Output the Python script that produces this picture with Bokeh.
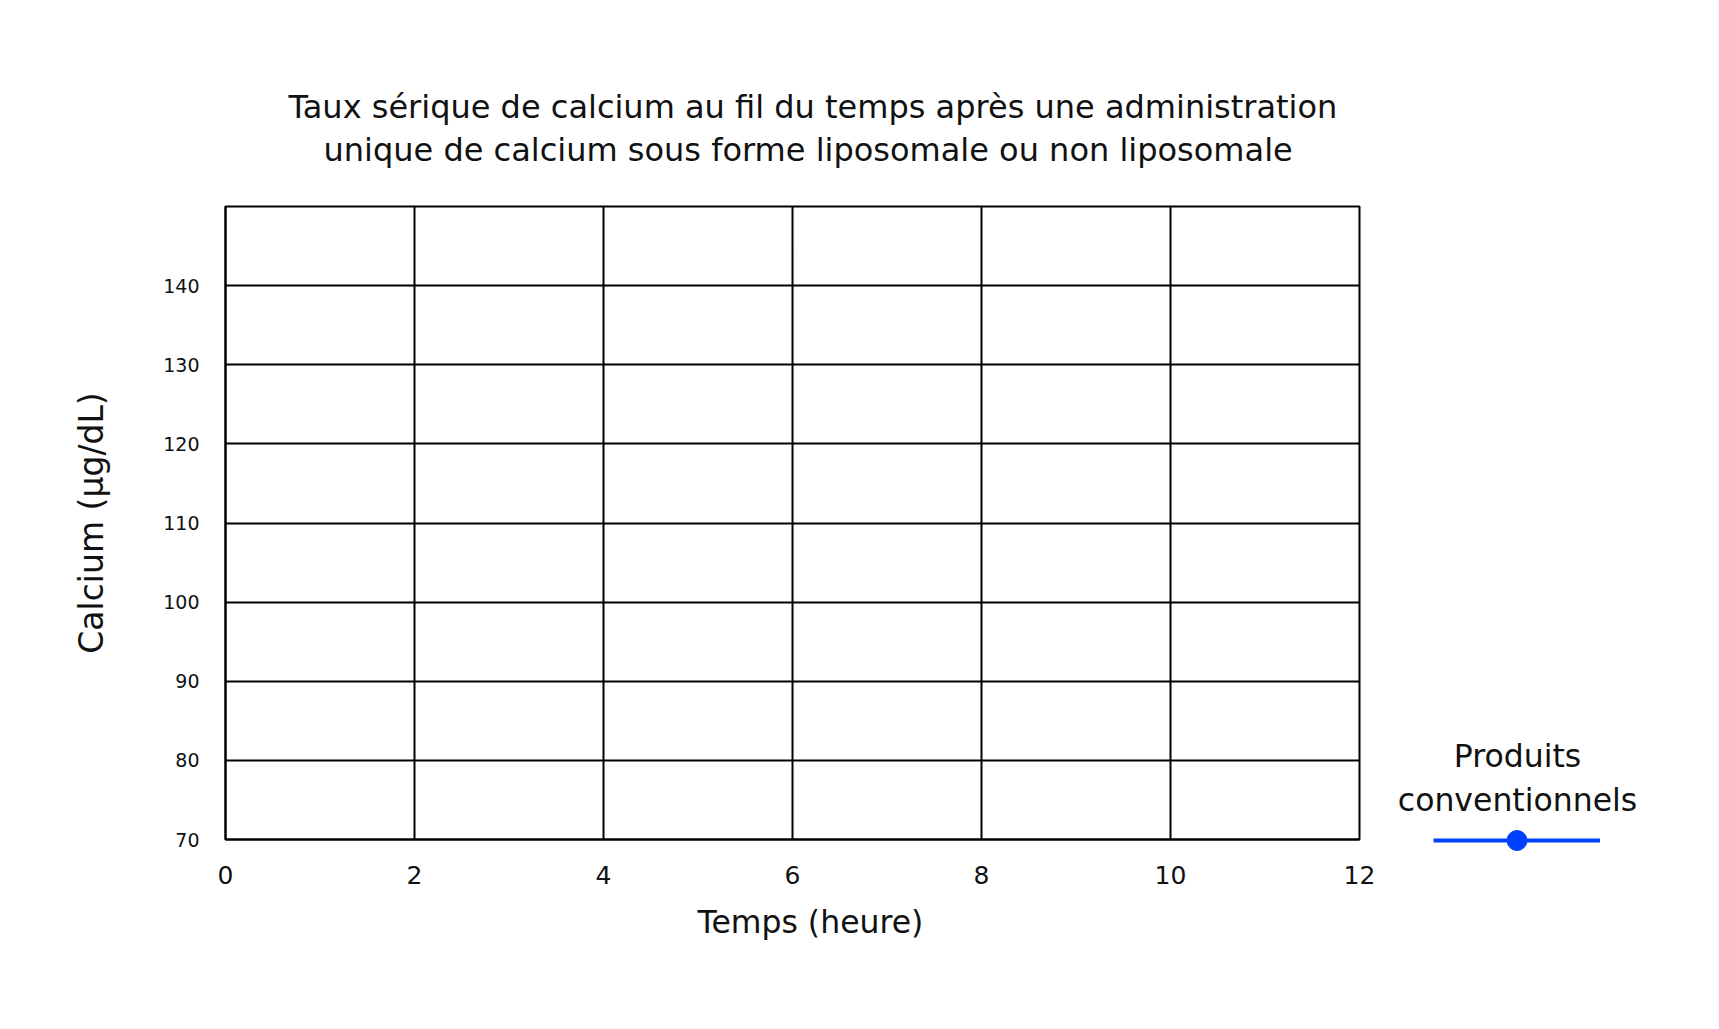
import numpy as np
from bokeh.plotting import figure
from bokeh.layouts import row
from bokeh.models import Range1d, FixedTicker, Legend, LegendItem, Label, Title
from bokeh.embed import file_html
from bokeh.resources import INLINE

# ---- data / texts ----
title_lines = [
    "Taux sérique de calcium au fil du temps après une administration",
    "unique de calcium sous forme liposomale ou non liposomale",
]
x_label = "Temps (heure)"
y_label = "Calcium (µg/dL)"
x_ticks = [0, 2, 4, 6, 8, 10, 12]
y_ticks = [70, 80, 90, 100, 110, 120, 130, 140]
x_limits = [0, 12]
y_limits = [70, 150]
series_name_lines = ["Produits", "conventionnels"]
# the reference shows no measured points: every value is missing
series_time = np.array([0, 2, 4, 6, 8, 10, 12], dtype=float)
series_calcium = np.array([np.nan, np.nan, np.nan, np.nan, np.nan, np.nan, np.nan])

FONT = "DejaVu Sans"
TXT = "#111111"
BLUE = "#0040ff"

MAIN_W, H = 1379, 1010
LEG_H = 1025

p = figure(
    width=MAIN_W, height=H,
    x_range=Range1d(*x_limits), y_range=Range1d(*y_limits),
    output_backend="svg", toolbar_location=None,
    min_border_left=225, min_border_right=20,
    min_border_top=206, min_border_bottom=171,
)
p.background_fill_color = "white"
p.border_fill_color = "white"
p.outline_line_color = "black"
p.outline_line_width = 2

# "above" items: the first added sits next to the frame, the plot title is outermost
p.add_layout(Title(text=" ", text_font_size="1px", standoff=32.5), "above")
p.add_layout(Title(text=title_lines[1], align="left", offset=98, text_font=FONT,
                   text_font_size="32px", text_font_style="normal",
                   text_color=TXT, standoff=4), "above")
p.title.text = title_lines[0]
p.title.align = "left"
p.title.offset = 63
p.title.text_font = FONT
p.title.text_font_size = "32px"
p.title.text_font_style = "normal"
p.title.text_color = TXT
p.title.standoff = 1

# axes
xa = p.xaxis[0]
xa.ticker = FixedTicker(ticks=x_ticks)
xa.major_label_text_font = FONT
xa.major_label_text_font_size = "25px"
xa.major_label_text_color = TXT
xa.major_label_standoff = 26
xa.major_tick_out = 0
xa.major_tick_in = 0
xa.minor_tick_out = 0
xa.minor_tick_in = 0
xa.axis_line_color = "black"
xa.axis_line_width = 2

ya = p.yaxis[0]
ya.ticker = FixedTicker(ticks=y_ticks)
ya.major_label_text_font = FONT
ya.major_label_text_font_size = "19px"
ya.major_label_text_color = TXT
ya.major_label_standoff = 26
ya.major_tick_out = 0
ya.major_tick_in = 0
ya.minor_tick_out = 0
ya.minor_tick_in = 0
ya.axis_line_color = "black"
ya.axis_line_width = 2
ya.axis_label = y_label
ya.axis_label_text_font = FONT
ya.axis_label_text_font_size = "33px"
ya.axis_label_text_font_style = "normal"
ya.axis_label_text_color = TXT
ya.axis_label_standoff = 49

p.add_layout(Title(text=x_label, align="left", offset=472, text_font=FONT,
                   text_font_size="31.5px", text_font_style="normal",
                   text_color=TXT, standoff=30), "below")

# grid
p.xgrid.ticker = FixedTicker(ticks=x_ticks)
p.ygrid.ticker = FixedTicker(ticks=y_ticks)
for g in (p.xgrid[0], p.ygrid[0]):
    g.grid_line_color = "black"
    g.grid_line_width = 2
    g.grid_line_alpha = 1.0

# series (all values missing, so nothing is drawn in the frame)
p.line(x=series_time, y=series_calcium, line_color=BLUE, line_width=4)
p.scatter(x=series_time, y=series_calcium, size=20, fill_color=BLUE, line_color=BLUE)

# legend panel on the right (a little taller so its frame reaches below the marker)
q = figure(
    width=1700 - MAIN_W, height=LEG_H,
    x_range=Range1d(0, 1), y_range=Range1d(0, 1),
    x_axis_type=None, y_axis_type=None,
    output_backend="svg", toolbar_location=None, title=None,
    min_border=0,
)
q.outline_line_color = None
q.background_fill_color = "white"
q.border_fill_color = "white"
ln = q.line(x=series_time, y=series_calcium, line_color=BLUE, line_width=4)
pts = q.scatter(x=series_time, y=series_calcium, size=20, fill_color=BLUE,
                line_color=BLUE)

legend = Legend(
    items=[LegendItem(label="", renderers=[ln, pts])],
    location=(54, -11),
    glyph_width=167, glyph_height=50,
    label_width=0, label_height=0, label_standoff=0,
    padding=0, spacing=0, margin=0,
    border_line_color=None, background_fill_alpha=0,
)
q.add_layout(legend, "center")

for txt, yy in zip(series_name_lines, [99, 55]):
    q.add_layout(Label(x=138, y=yy, x_units="screen", y_units="screen",
                       text=txt, text_align="center", text_baseline="alphabetic",
                       text_font=FONT, text_font_size="31.5px", text_color=TXT))

layout = row(p, q)
open("out.html", "w").write(file_html(layout, INLINE))
